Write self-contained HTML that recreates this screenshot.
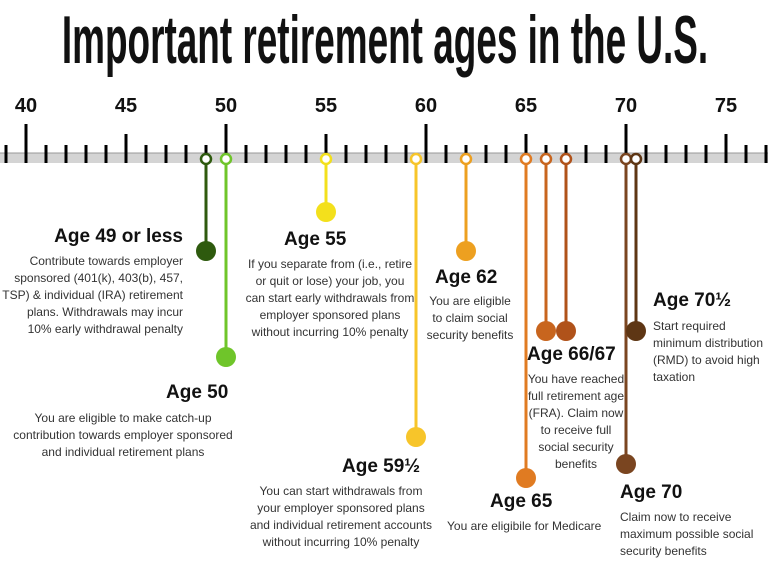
<!DOCTYPE html>
<html><head><meta charset="utf-8"><style>
body{margin:0;width:768px;height:572px;background:#fff;position:relative;overflow:hidden;font-family:"Liberation Sans",sans-serif;color:#222}
.t{position:absolute;white-space:nowrap}
.h{font-weight:bold;font-size:19px;color:#111;line-height:22px}
.b{font-size:12px;line-height:17px;color:#333}
.title{position:absolute;left:-205px;top:2px;width:1168px;text-align:center;white-space:nowrap;font-family:"Liberation Sans Narrow","Liberation Sans",sans-serif;font-weight:bold;font-size:68px;line-height:76px;color:#111;transform:scaleX(0.543);transform-origin:584px 0}
.n{position:absolute;font-weight:bold;font-size:20px;top:95px;width:40px;text-align:center;color:#111}
</style></head><body>
<div class="title">Important retirement ages in the U.S.</div>
<div class="n" style="left:6px">40</div><div class="n" style="left:106px">45</div><div class="n" style="left:206px">50</div><div class="n" style="left:306px">55</div><div class="n" style="left:406px">60</div><div class="n" style="left:506px">65</div><div class="n" style="left:606px">70</div><div class="n" style="left:706px">75</div>
<svg width="768" height="572" style="position:absolute;left:0;top:0">
<rect x="0" y="153" width="768" height="10" fill="#d4d4d4"/>
<line x1="0" y1="153" x2="768" y2="153" stroke="#999" stroke-width="1"/>
<g stroke="#000" stroke-width="3" id="ticks"></g>
<g id="pins"></g>
</svg>
<script>
var g=document.getElementById('ticks'),s='';
for(var a=38;a<=78;a++){var x=26+(a-40)*20;if(x<0||x>768)continue;var y1=a%10==0?124:(a%5==0?134:145);s+='<line x1="'+x+'" y1="'+y1+'" x2="'+x+'" y2="163"/>';}
g.innerHTML=s;
var P=[[49,'#2e5a0e',251],[50,'#6fc52a',357],[55,'#f3e01c',212],[59.5,'#f7c52a',437],[62,'#eda020',251],[65,'#e07b22',478],[66,'#c8651e',331],[67,'#b0521a',331],[70,'#7a4520',464],[70.5,'#5e3614',331]];
var t='';P.forEach(function(p){var x=26+(p[0]-40)*20;t+='<line x1="'+x+'" y1="159" x2="'+x+'" y2="'+p[2]+'" stroke="'+p[1]+'" stroke-width="3"/><circle cx="'+x+'" cy="159" r="5" fill="#fff" stroke="'+p[1]+'" stroke-width="2.5"/><circle cx="'+x+'" cy="'+p[2]+'" r="10" fill="'+p[1]+'"/>';});
document.getElementById('pins').innerHTML=t;
</script>
<div class="t h" style="right:585px;top:226px">Age 49 or less</div>
<div class="t b" style="right:585px;top:253px;text-align:right">Contribute towards employer<br>sponsored (401(k), 403(b), 457,<br>TSP) &amp; individual (IRA) retirement<br>plans. Withdrawals may incur<br>10% early withdrawal penalty</div>
<div class="t h" style="left:284px;top:229px">Age 55</div>
<div class="t b" style="left:230px;width:200px;top:256px;text-align:center;white-space:normal">If you separate from (i.e., retire<br>or quit or lose) your job, you<br>can start early withdrawals from<br>employer sponsored plans<br>without incurring 10% penalty</div>
<div class="t h" style="left:166px;top:382px">Age 50</div>
<div class="t b" style="left:0;width:246px;top:410px;text-align:center">You are eligible to make catch-up<br>contribution towards employer sponsored<br>and individual retirement plans</div>
<div class="t h" style="left:435px;top:267px">Age 62</div>
<div class="t b" style="left:420px;width:100px;top:293px;text-align:center">You are eligible<br>to claim social<br>security benefits</div>
<div class="t h" style="left:342px;top:456px">Age 59½</div>
<div class="t b" style="left:241px;width:200px;top:483px;text-align:center">You can start withdrawals from<br>your employer sponsored plans<br>and individual retirement accounts<br>without incurring 10% penalty</div>
<div class="t h" style="left:527px;top:344px">Age 66/67</div>
<div class="t b" style="left:524px;width:104px;top:371px;text-align:center">You have reached<br>full retirement age<br>(FRA). Claim now<br>to receive full<br>social security<br>benefits</div>
<div class="t h" style="left:490px;top:491px">Age 65</div>
<div class="t b" style="left:447px;top:518px">You are eligibile for Medicare</div>
<div class="t h" style="left:653px;top:290px">Age 70½</div>
<div class="t b" style="left:653px;top:318px">Start required<br>minimum distribution<br>(RMD) to avoid high<br>taxation</div>
<div class="t h" style="left:620px;top:482px">Age 70</div>
<div class="t b" style="left:620px;top:509px">Claim now to receive<br>maximum possible social<br>security benefits</div>
</body></html>
